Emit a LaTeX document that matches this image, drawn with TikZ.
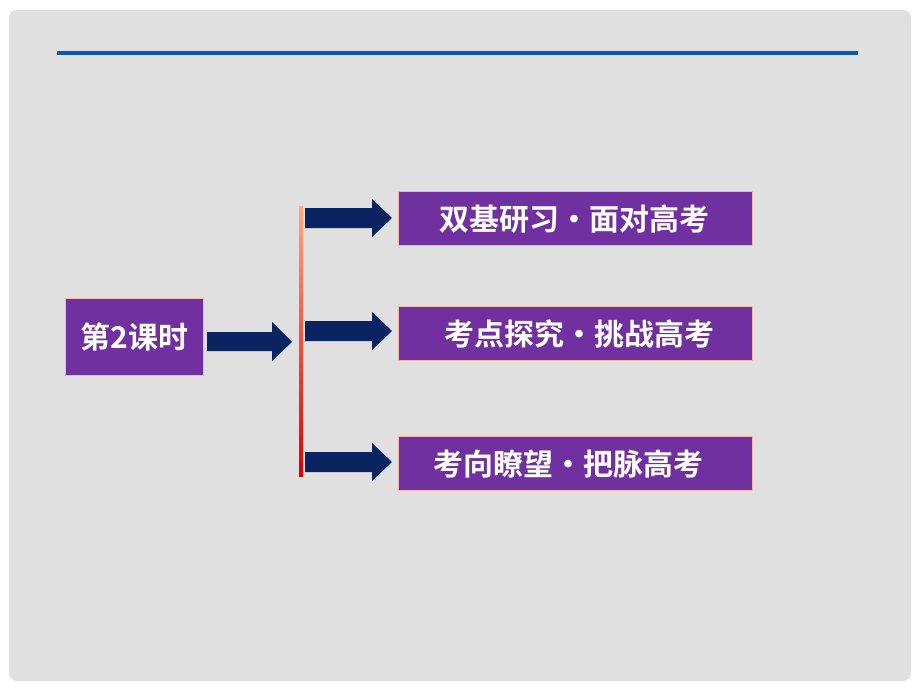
\documentclass[tikz,border=0pt]{standalone}
\usepackage{fontspec}
\newfontfamily\cjk{Noto Sans CJK SC}[BoldFont=* Bold]
\definecolor{bgc}{HTML}{E0E0E0}
\definecolor{purp}{HTML}{7030A0}
\definecolor{navy}{HTML}{0A2462}
\definecolor{bline}{HTML}{0B5CAD}
\definecolor{pinkb}{HTML}{F2B8A8}
\tikzset{
  box/.style={draw=pinkb, line width=1.2pt, fill=purp, text=white, font=\cjk\bfseries\fontsize{30}{34}\selectfont, inner sep=0pt, anchor=north west},
  arr/.style={fill=navy, draw=none}
}
\begin{document}
\begin{tikzpicture}[x=1pt,y=-1pt]
\useasboundingbox (0,0) rectangle (920,690);
\fill[white] (0,0) rectangle (920,690);
\fill[bgc, rounded corners=8pt] (9,10) rectangle (911,681);
\draw[bline, line width=4pt] (57,53) -- (858,53);
% boxes
\node[box, minimum width=138pt, minimum height=77pt] (k) at (65,298) {第2课时};
\node[box, minimum width=354pt, minimum height=54pt] (b1) at (398,191) {双基研习·面对高考\kern3pt};
\node[box, minimum width=354pt, minimum height=54pt] (b2) at (398,306) {\kern8pt 考点探究·挑战高考};
\node[box, minimum width=354pt, minimum height=54pt] (b3) at (398,436) {考向瞭望·把脉高考\kern14pt};
% vertical line
\shade[top color=red!35!orange!50!white, bottom color=red!85!black, shading angle=0] (299,206) rectangle (303,476);
% arrows
\fill[arr] (207,332) -- (272,332) -- (272,322) -- (292,342) -- (272,361) -- (272,351) -- (207,351) -- cycle;
\foreach \yy in {218,331,462}{
  \fill[arr] (305,\yy-10) -- (372,\yy-10) -- (372,\yy-19) -- (392,\yy) -- (372,\yy+19) -- (372,\yy+10) -- (305,\yy+10) -- cycle;
}
\end{tikzpicture}
\end{document}
